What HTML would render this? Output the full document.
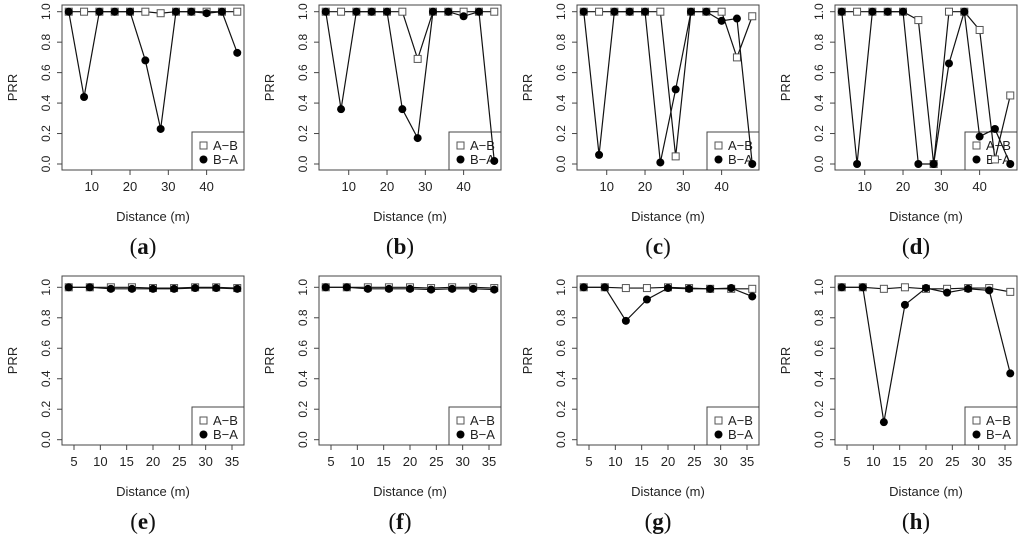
<!DOCTYPE html>
<html><head><meta charset="utf-8"><style>
html,body{margin:0;padding:0;background:#fff;width:1024px;height:535px;overflow:hidden}
svg{display:block}
text{font-family:"Liberation Sans",sans-serif;fill:#222}
.cap{font-family:"Liberation Serif",serif;font-size:23px;fill:#111}
</style></head><body>
<svg id="fig" width="1024" height="535" xmlns="http://www.w3.org/2000/svg"></svg>
<script>
// Data
const xTop = [4,8,12,16,20,24,28,32,36,40,44,48];
const xBot = [4,8,12,16,20,24,28,32,36];
const ticksTop = [10,20,30,40];
const ticksBot = [5,10,15,20,25,30,35];
const yTicks = ["0.0","0.2","0.4","0.6","0.8","1.0"];
const captions = ["(a)","(b)","(c)","(d)","(e)","(f)","(g)","(h)"];
const abA = [1,1,1,1,1,1,0.99,1,1,1,1,1];
const baA = [1,0.44,1,1,1,0.68,0.23,1,1,0.99,1,0.73];
const abB = [1,1,1,1,1,1,0.69,1,1,1,1,1];
const baB = [1,0.36,1,1,1,0.36,0.17,1,1,0.97,1,0.02];
const abC = [1,1,1,1,1,1,0.05,1,1,1,0.70,0.97];
const baC = [1,0.06,1,1,1,0.01,0.49,1,1,0.94,0.955,0.0];
const abD = [1,1,1,1,1,0.945,0,1,1,0.88,0.03,0.45];
const baD = [1,0,1,1,1,0,0,0.66,1,0.18,0.23,0];
const abE = [1,1,1,1,0.995,0.995,1,1,0.995];
const baE = [1,1,0.99,0.99,0.99,0.99,0.995,0.995,0.99];
const abF = [1,1,1,1,1,0.995,1,1,0.995];
const baF = [1,1,0.99,0.99,0.99,0.985,0.99,0.99,0.985];
const abG = [1,1,0.995,0.995,1,0.995,0.99,0.99,0.99];
const baG = [1,1,0.78,0.92,0.995,0.99,0.99,0.995,0.94];
const abH = [1,1,0.99,1,0.99,0.99,0.995,0.995,0.97];
const baH = [1,1,0.115,0.885,0.995,0.965,0.99,0.98,0.435];

const NS="http://www.w3.org/2000/svg";
const svg=document.getElementById('fig');
function mk(tag,attrs,parent){const e=document.createElementNS(NS,tag);for(const k in attrs)e.setAttribute(k,attrs[k]);(parent||svg).appendChild(e);return e;}

const panels=[
 {x:xTop,ab:abA,ba:baA,ticks:ticksTop,left:62,top:true},
 {x:xTop,ab:abB,ba:baB,ticks:ticksTop,left:319,top:true},
 {x:xTop,ab:abC,ba:baC,ticks:ticksTop,left:577,top:true},
 {x:xTop,ab:abD,ba:baD,ticks:ticksTop,left:835,top:true},
 {x:xBot,ab:abE,ba:baE,ticks:ticksBot,left:62,top:false},
 {x:xBot,ab:abF,ba:baF,ticks:ticksBot,left:319,top:false},
 {x:xBot,ab:abG,ba:baG,ticks:ticksBot,left:577,top:false},
 {x:xBot,ab:abH,ba:baH,ticks:ticksBot,left:835,top:false}
];

panels.forEach((p,i)=>{
  const g=mk('g',{});
  
  
  const L=p.left, W=182, R=L+W;
  const T=p.top?5:276, B=p.top?170:445;
  const y1=p.top?11.7:287.3, y0=p.top?164:439.7;
  const xmin=p.x[0], xmax=p.x[p.x.length-1], pad=0.04*(xmax-xmin);
  const sx=v=>L+(v-(xmin-pad))/((xmax-xmin)+2*pad)*W;
  const sy=v=>y0+(y1-y0)*v;
  const box=mk('rect',{x:L,y:T,width:W,height:B-T,fill:'none',stroke:'#444','stroke-width':1},g);
  
  
  yTicks.forEach(t=>{
    const yy=sy(parseFloat(t));
    mk('line',{x1:L,x2:L-5,y1:yy,y2:yy,stroke:'#444'},g);
    const tx=mk('text',{x:L-12,y:yy,'font-size':12,'text-anchor':'middle',transform:`rotate(-90 ${L-12} ${yy})`},g);
    tx.textContent=t;
    
    
  });
  p.ticks.forEach(t=>{
    const xx=sx(t);
    mk('line',{x1:xx,x2:xx,y1:B,y2:B+5,stroke:'#444'},g);
    const tx=mk('text',{x:xx,y:B+21,'font-size':13,'text-anchor':'middle'},g);
    tx.textContent=t;
    
    
  });
  const yl=L-45, ym=(T+B)/2;
  const yt=mk('text',{x:yl,y:ym,'font-size':13,'text-anchor':'middle',transform:`rotate(-90 ${yl} ${ym})`},g);
  yt.textContent='PRR';
  
  
  const xt=mk('text',{x:(L+R)/2,y:B+51,'font-size':13,'text-anchor':'middle'},g);
  xt.textContent='Distance (m)';
  
  
  const cp=mk('text',{x:(L+R)/2-10,y:B+84,'text-anchor':'middle',class:'cap'},g);
  cp.innerHTML=captions[i].replace(/\((.)\)/,'(<tspan font-weight="bold">$1</tspan>)');
  
  
  const lw=52, lh=38, lx=R-lw, ly=B-lh;
  const lg=mk('g',{},g);
  
  
  mk('rect',{x:lx,y:ly,width:lw,height:lh,fill:'none',stroke:'#444'},lg);
  mk('rect',{x:lx+8,y:ly+10,width:7,height:7,fill:'none',stroke:'#555'},lg);
  const l1=mk('text',{x:lx+21,y:ly+18,'font-size':13},lg); l1.textContent='A\u2212B';
  
  
  mk('circle',{cx:lx+11.5,cy:ly+27.5,r:4,fill:'#000'},lg);
  const l2=mk('text',{x:lx+21,y:ly+32,'font-size':13},lg); l2.textContent='B\u2212A';
  
  
  const pab=mk('polyline',{points:p.x.map((v,k)=>sx(v)+','+sy(p.ab[k])).join(' '),fill:'none',stroke:'#111','stroke-width':1.2},g);
  
  
  p.x.forEach((v,k)=>{
    const r=mk('rect',{x:sx(v)-3.5,y:sy(p.ab[k])-3.5,width:7,height:7,fill:'#fff',stroke:'#555'},g);
    
    
  });
  const pba=mk('polyline',{points:p.x.map((v,k)=>sx(v)+','+sy(p.ba[k])).join(' '),fill:'none',stroke:'#111','stroke-width':1.2},g);
  
  
  p.x.forEach((v,k)=>{
    const c=mk('circle',{cx:sx(v),cy:sy(p.ba[k]),r:4,fill:'#000'},g);
    
    
  });
});
</script>
</body></html>
